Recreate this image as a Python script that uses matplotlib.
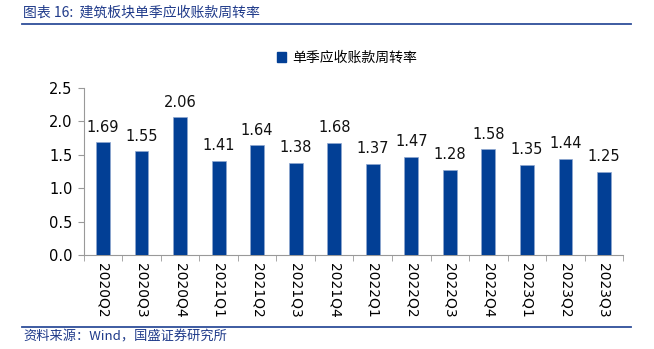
import matplotlib
matplotlib.use("Agg")
import matplotlib.pyplot as plt
from matplotlib.lines import Line2D
from matplotlib.patches import Patch

plt.rcParams['font.family'] = ['Noto Sans CJK SC', 'DejaVu Sans']

categories = ["2020Q2", "2020Q3", "2020Q4", "2021Q1", "2021Q2", "2021Q3", "2021Q4",
              "2022Q1", "2022Q2", "2022Q3", "2022Q4", "2023Q1", "2023Q2", "2023Q3"]
values = [1.69, 1.55, 2.06, 1.41, 1.64, 1.38, 1.68, 1.37, 1.47, 1.28, 1.58, 1.35, 1.44, 1.25]
yticks = [0.0, 0.5, 1.0, 1.5, 2.0, 2.5]
series_name = "单季应收账款周转率"
title = "图表 16:  建筑板块单季应收账款周转率"
source = "资料来源：Wind，国盛证券研究所"

bar_color = "#023F95"
text_blue = "#1F3A8A"

fig = plt.figure(figsize=(6.54, 3.49), dpi=100)
ax = fig.add_axes([0.128, 0.269, 0.825, 0.479])

x = list(range(len(categories)))
ax.bar(x, values, width=0.36, color=bar_color, edgecolor="#8FA8D0", linewidth=0.5, zorder=3)
for xi, v in zip(x, values):
    ax.text(xi, v + 0.11, f"{v:.2f}", ha="center", va="bottom", fontsize=10.5,
            family=["DejaVu Sans"], color="#111111")

ax.set_xlim(-0.5, len(categories) - 0.5)
ax.set_ylim(0, 2.5)
ax.set_yticks(yticks)
ax.set_yticklabels([f"{t:.1f}" for t in yticks], fontsize=10.5, family=["DejaVu Sans"])
ax.set_xticks(x)
ax.set_xticklabels(categories, rotation=-90, fontsize=10, family=["DejaVu Sans"])
ax.tick_params(axis="x", length=0, pad=6)
ax.set_xticks([i + 0.5 for i in range(-1, len(categories))], minor=True)
ax.tick_params(axis="x", which="minor", length=4, color="#999999", direction="out")
ax.tick_params(axis="y", length=4, color="#999999", direction="out", pad=4)
for s in ["top", "right"]:
    ax.spines[s].set_visible(False)
for s in ["left", "bottom"]:
    ax.spines[s].set_color("#999999")
    ax.spines[s].set_linewidth(0.8)

fig.legend(handles=[Patch(facecolor=bar_color, edgecolor=bar_color, label=series_name)],
           loc="center", bbox_to_anchor=(0.53, 0.835), frameon=False, fontsize=10,
           handlelength=0.7, handleheight=0.7, handletextpad=0.4)

fig.text(0.035, 0.965, title, fontsize=10, color=text_blue, style="italic",
         va="center", ha="left")
fig.add_artist(Line2D([0.033, 0.965], [0.93, 0.93], color="#2E4E9A", linewidth=1.3,
                      transform=fig.transFigure))
fig.add_artist(Line2D([0.033, 0.965], [0.063, 0.063], color="#2E4E9A", linewidth=1.3,
                      transform=fig.transFigure))
fig.text(0.035, 0.035, source, fontsize=9.5, color=text_blue, style="italic",
         va="center", ha="left")

fig.savefig("out.png", dpi=100)
